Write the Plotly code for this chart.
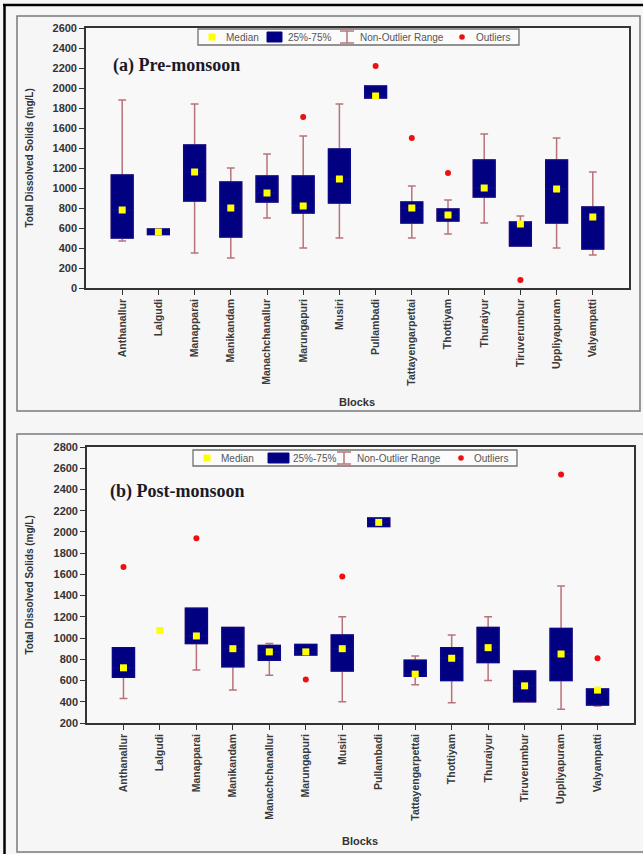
import plotly.graph_objects as go

W, H = 643, 854

blocks = ["Anthanallur", "Lalgudi", "Manapparai", "Manikandam", "Manachchanallur",
          "Marungapuri", "Musiri", "Pullambadi", "Tattayengarpettai", "Thottiyam",
          "Thuraiyur", "Tiruverumbur", "Uppliyapuram", "Valyampatti"]

# Pre-monsoon TDS (mg/L): non-outlier min, 25%, median, 75%, non-outlier max
pre_low = [470, 535, 350, 300, 700, 400, 500, 1900, 500, 540, 650, 420, 400, 330]
pre_q1 = [500, 535, 870, 510, 860, 750, 850, 1900, 650, 670, 910, 420, 650, 390]
pre_med = [780, 560, 1160, 800, 950, 820, 1090, 1920, 800, 730, 1000, 640, 990, 710]
pre_q3 = [1130, 590, 1430, 1060, 1120, 1120, 1390, 2020, 860, 790, 1280, 660, 1280, 810]
pre_high = [1880, 590, 1840, 1200, 1340, 1520, 1840, 2020, 1020, 880, 1540, 720, 1500, 1160]
pre_out_blocks = ["Marungapuri", "Pullambadi", "Tattayengarpettai", "Thottiyam", "Tiruverumbur"]
pre_out_vals = [1710, 2220, 1500, 1150, 80]

# Post-monsoon TDS (mg/L); Lalgudi has a single value (median only)
post_low = [430, None, 700, 510, 650, 840, 400, 2050, 560, 390, 600, 400, 330, 360]
post_q1 = [630, None, 950, 730, 790, 840, 690, 2050, 640, 600, 770, 400, 600, 370]
post_med = [720, 1070, 1020, 900, 870, 870, 900, 2090, 660, 810, 910, 550, 850, 510]
post_q3 = [910, None, 1280, 1100, 930, 940, 1030, 2130, 790, 910, 1100, 690, 1090, 520]
post_high = [910, None, 1280, 1100, 950, 940, 1200, 2130, 830, 1030, 1200, 690, 1490, 520]
post_out_blocks = ["Anthanallur", "Manapparai", "Marungapuri", "Musiri", "Uppliyapuram", "Valyampatti"]
post_out_vals = [1670, 1940, 610, 1580, 2540, 810]

NAVY = "#000080"
EDGE = "#08088a"
WHISK = "#b8737a"
YELLOW = "#ffff00"
RED = "#ee1010"
SANS = "Liberation Sans, Arial, sans-serif"
SERIF = "Liberation Serif, Times New Roman, serif"


def px(x):
    return x / W


def py(y):
    return 1 - y / H


fig = go.Figure()


def add_panel(xa, ya, low, q1, med, q3, high, out_b, out_v):
    idx = [i for i, v in enumerate(q1) if v is not None]
    cats = [blocks[i] for i in idx]
    # whiskers (non-outlier range) drawn under the box
    fig.add_trace(go.Box(
        x=cats, q1=[q1[i] for i in idx], median=[med[i] for i in idx],
        q3=[q3[i] for i in idx], lowerfence=[low[i] for i in idx],
        upperfence=[high[i] for i in idx], width=0.6, whiskerwidth=0.36,
        line=dict(color=WHISK, width=1.5), fillcolor=NAVY, boxpoints=False,
        xaxis=xa, yaxis=ya, showlegend=False, hoverinfo="skip"))
    # 25%-75% box
    fig.add_trace(go.Box(
        x=cats, q1=[q1[i] for i in idx], median=[med[i] for i in idx],
        q3=[q3[i] for i in idx], lowerfence=[q1[i] for i in idx],
        upperfence=[q3[i] for i in idx], width=0.6, whiskerwidth=0,
        line=dict(color=EDGE, width=1.5), fillcolor=NAVY, boxpoints=False,
        xaxis=xa, yaxis=ya, showlegend=False, hoverinfo="skip"))
    # medians
    fig.add_trace(go.Scatter(
        x=blocks, y=med, mode="markers", xaxis=xa, yaxis=ya, showlegend=False,
        marker=dict(symbol="square", size=7, color=YELLOW, line=dict(width=0))))
    # outliers
    fig.add_trace(go.Scatter(
        x=out_b, y=out_v, mode="markers", xaxis=xa, yaxis=ya, showlegend=False,
        marker=dict(symbol="circle", size=6, color=RED, line=dict(width=0))))


add_panel("x", "y", pre_low, pre_q1, pre_med, pre_q3, pre_high, pre_out_blocks, pre_out_vals)
add_panel("x2", "y2", post_low, post_q1, post_med, post_q3, post_high, post_out_blocks, post_out_vals)

axis_common = dict(showline=True, linecolor="#333333", linewidth=1.6, mirror=True,
                   ticks="outside", ticklen=5, tickcolor="#333333", tickwidth=1.3,
                   showgrid=False, zeroline=False, automargin=False, fixedrange=True)
xfont = dict(family=SANS, size=10.5, color="#3a3a3a", weight="bold")
yfont = dict(family=SANS, size=11, color="#333333", weight="bold")

fig.update_layout(
    width=W, height=H, autosize=False,
    margin=dict(l=0, r=0, t=0, b=0),
    paper_bgcolor="#f6f6f6", plot_bgcolor="#f8f8f8",
    boxmode="overlay", showlegend=False,
    xaxis=dict(domain=[px(86), px(629)], anchor="y", type="category",
               categoryorder="array", categoryarray=blocks, range=[-1, 14],
               tickangle=-90, tickfont=xfont, **axis_common),
    yaxis=dict(domain=[py(288), py(28)], anchor="x", range=[0, 2600],
               tick0=0, dtick=200, tickfont=yfont, **axis_common),
    xaxis2=dict(domain=[px(87), px(634)], anchor="y2", type="category",
                categoryorder="array", categoryarray=blocks, range=[-1, 14],
                tickangle=-90, tickfont=xfont, **axis_common),
    yaxis2=dict(domain=[py(723), py(447)], anchor="x2", range=[200, 2800],
                tick0=200, dtick=200, tickfont=yfont, **axis_common),
)

shapes = []
annotations = []

# outer frame and panel borders
shapes.append(dict(type="line", xref="paper", yref="paper", x0=px(4.5), x1=px(4.5),
                   y0=py(4), y1=py(860), line=dict(color="#000000", width=2.5)))
shapes.append(dict(type="line", xref="paper", yref="paper", x0=px(3), x1=px(660),
                   y0=py(5), y1=py(5), line=dict(color="#000000", width=2.5)))
shapes.append(dict(type="rect", xref="paper", yref="paper", x0=px(17), x1=px(640),
                   y0=py(411), y1=py(16), line=dict(color="#7a7a7a", width=1.5)))
shapes.append(dict(type="rect", xref="paper", yref="paper", x0=px(17), x1=px(660),
                   y0=py(852), y1=py(434), line=dict(color="#7a7a7a", width=1.5)))


def add_legend(x0, x1, y0, y1, items):
    cy = (y0 + y1) / 2
    shapes.append(dict(type="rect", xref="paper", yref="paper", layer="above",
                       x0=px(x0), x1=px(x1), y0=py(y1), y1=py(y0),
                       fillcolor="#fbfbfb", line=dict(color="#707070", width=1.3)))
    sq, nav, wh, dot = items
    # median swatch
    shapes.append(dict(type="rect", xref="paper", yref="paper", layer="above",
                       x0=px(sq - 3.5), x1=px(sq + 3.5), y0=py(cy + 3.5), y1=py(cy - 3.5),
                       fillcolor=YELLOW, line=dict(width=0)))
    # box swatch
    shapes.append(dict(type="rect", xref="paper", yref="paper", layer="above",
                       x0=px(nav[0]), x1=px(nav[1]), y0=py(cy + 5), y1=py(cy - 5),
                       fillcolor=NAVY, line=dict(color=EDGE, width=1)))
    # whisker swatch
    for (a, b, c, d) in [(wh - 7, wh + 7, cy - 6, cy - 6), (wh - 7, wh + 7, cy + 6, cy + 6),
                         (wh, wh, cy - 6, cy + 6)]:
        shapes.append(dict(type="line", xref="paper", yref="paper", layer="above",
                           x0=px(a), x1=px(b), y0=py(c), y1=py(d),
                           line=dict(color=WHISK, width=1.5)))
    # outlier swatch
    shapes.append(dict(type="circle", xref="paper", yref="paper", layer="above",
                       x0=px(dot - 2.8), x1=px(dot + 2.8), y0=py(cy + 2.8), y1=py(cy - 2.8),
                       fillcolor=RED, line=dict(width=0)))


def legend_text(x, cy, text):
    annotations.append(dict(xref="paper", yref="paper", x=px(x), y=py(cy),
                            xanchor="left", yanchor="middle", showarrow=False, text=text,
                            font=dict(family=SANS, size=10, color="#555555")))


add_legend(198, 519, 29, 45, (212, (267, 282), 347, 462))
for x, t in [(224, "Median"), (286, "25%-75%"), (358, "Non-Outlier Range"), (474, "Outliers")]:
    legend_text(x, 37, t)

add_legend(193, 517, 450, 466, (207, (268, 289), 344, 461))
for x, t in [(219, "Median"), (291, "25%-75%"), (355, "Non-Outlier Range"), (472, "Outliers")]:
    legend_text(x, 458, t)

# panel titles
for x, y, t in [(111, 66, "(a) Pre-monsoon"), (108, 491, "(b) Post-monsoon")]:
    annotations.append(dict(xref="paper", yref="paper", x=px(x), y=py(y), xanchor="left",
                            yanchor="middle", showarrow=False, text=t,
                            font=dict(family=SERIF, size=18, color="#1a1a28", weight="bold")))

# axis titles
for y in [158, 585]:
    annotations.append(dict(xref="paper", yref="paper", x=px(28.5), y=py(y), xanchor="center",
                            yanchor="middle", showarrow=False, textangle=-90,
                            text="Total Dissolved Solids (mg/L)",
                            font=dict(family=SANS, size=10, color="#333333", weight="bold")))
for x, y in [(357, 402), (360, 841)]:
    annotations.append(dict(xref="paper", yref="paper", x=px(x), y=py(y), xanchor="center",
                            yanchor="middle", showarrow=False, text="Blocks",
                            font=dict(family=SANS, size=11, color="#333333", weight="bold")))

fig.update_layout(shapes=shapes, annotations=annotations)
fig.write_html("out.html", config={"displayModeBar": False})
